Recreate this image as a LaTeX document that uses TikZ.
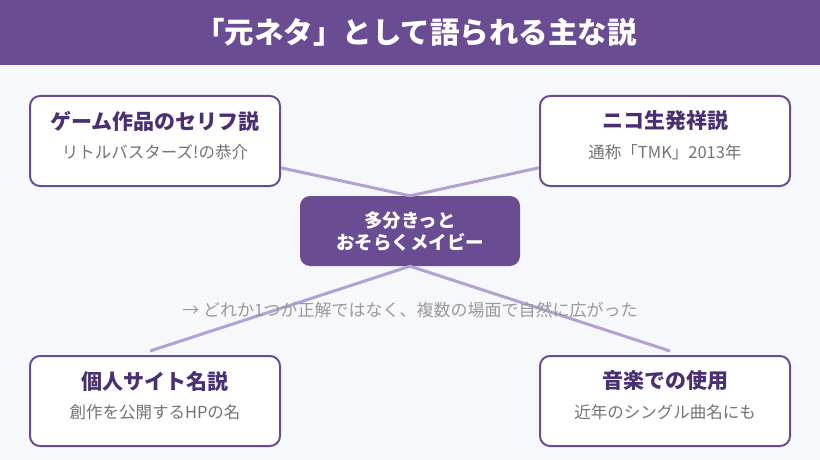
\documentclass[tikz,border=0pt]{standalone}
\usepackage{fontspec}
\setmainfont{Noto Sans CJK JP}
\usetikzlibrary{calc}
\definecolor{bgc}{HTML}{F7F8FC}
\definecolor{headc}{HTML}{6A4C93}
\definecolor{titlec}{HTML}{4B2F73}
\definecolor{linkc}{HTML}{B3A1CF}
\tikzstyle{card}=[draw=headc,line width=2pt,fill=white,rounded corners=10pt,minimum width=250pt,minimum height=90pt,inner sep=0pt]
\tikzstyle{cardtitle}=[text=titlec,font=\bfseries\fontsize{21}{25}\selectfont,inner sep=0pt]
\tikzstyle{cardsub}=[text=black!55,font=\fontsize{16.5}{20}\selectfont,inner sep=0pt]
\tikzstyle{hub}=[fill=headc,rounded corners=10pt,minimum width=220pt,minimum height=70pt,text=white,font=\bfseries\fontsize{18.5}{22}\selectfont,align=center]
\tikzstyle{link}=[linkc,line width=3pt]
\tikzstyle{note}=[text=black!40,font=\fontsize{17}{20}\selectfont,inner sep=0pt]
\begin{document}
\begin{tikzpicture}[x=1pt,y=-1pt]
		\fill[bgc] (0,0) rectangle (820,460);
		\fill[headc] (0,0) rectangle (820,65);
		\node[text=white,font=\bfseries\fontsize{29.5}{34}\selectfont] (head) at (416,32) {「元ネタ」として語られる主な説};

		\foreach \n/\x/\y/\t/\s in {game/155/141/ゲーム作品のセリフ説/リトルバスターズ!の恭介,nico/665/141/ニコ生発祥説/通称「TMK」2013年,site/155/401/個人サイト名説/創作を公開するHPの名,music/665/401/音楽での使用/近年のシングル曲名にも} {
			\node[card] (\n) at (\x,\y) {};
			\node[cardtitle] (\n-t) at (\x,{\y-20}) {\t};
			\node[cardsub] (\n-s) at (\x,{\y+11}) {\s};
		}

		\node[hub] (hub) at (410,231) {多分きっと\\おそらくメイビー};

		\draw[link] (game.-12) -- (hub.north);
		\draw[link] (nico.-168) -- (hub.north);
		\draw[link] (hub.south) -- ($(site.north)+(-5,-4)$);
		\draw[link] (hub.south) -- ($(music.north)+(5,-4)$);

		\node[note] (note) at (410,310) {→ どれか1つが正解ではなく、複数の場面で自然に広がった};
	\end{tikzpicture}
\end{document}
